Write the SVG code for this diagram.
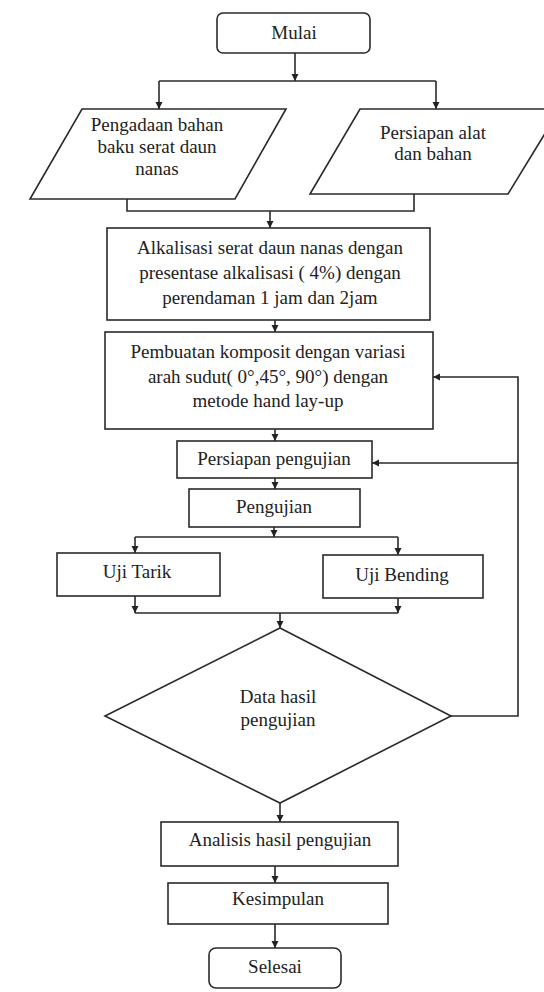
<svg xmlns="http://www.w3.org/2000/svg" width="544" height="992" viewBox="0 0 544 992">
<defs>
<style>
.s{fill:#fff;stroke:#2a2a2a;stroke-width:1.6}
.c{fill:none;stroke:#2a2a2a;stroke-width:1.6}
text{font-family:"Liberation Serif","Times New Roman",serif;font-size:19px;fill:#222;text-anchor:middle}
</style>
<marker id="ah" markerUnits="userSpaceOnUse" markerWidth="8" markerHeight="8" refX="7" refY="4" orient="auto">
<path d="M0,0.5 L7,4 L0,7.5 z" fill="#222"/>
</marker>
</defs>
<rect width="544" height="992" fill="#fff"/>
<g id="connectors">
<path class="c" d="M295,53 V81" marker-end="url(#ah)"/>
<path class="c" d="M159,81 H436"/>
<path class="c" d="M159,81 V109" marker-end="url(#ah)"/>
<path class="c" d="M436,81 V109" marker-end="url(#ah)"/>
<path class="c" d="M127,199 V211 H414 V194"/>
<path class="c" d="M270,211 V228" marker-end="url(#ah)"/>
<path class="c" d="M275,320 V332" marker-end="url(#ah)"/>
<path class="c" d="M275,429 V441" marker-end="url(#ah)"/>
<path class="c" d="M275,478 V489" marker-end="url(#ah)"/>
<path class="c" d="M274,527 V537" marker-end="url(#ah)"/>
<path class="c" d="M135,537 H398"/>
<path class="c" d="M135,537 V553" marker-end="url(#ah)"/>
<path class="c" d="M398,537 V555" marker-end="url(#ah)"/>
<path class="c" d="M135,596 V613" marker-end="url(#ah)"/>
<path class="c" d="M398,598 V613" marker-end="url(#ah)"/>
<path class="c" d="M135,613 H398"/>
<path class="c" d="M280,613 V628" marker-end="url(#ah)"/>
<path class="c" d="M451,716 H518 V377 H433" marker-end="url(#ah)"/>
<path class="c" d="M518,463 H372" marker-end="url(#ah)"/>
<path class="c" d="M280,803 V822" marker-end="url(#ah)"/>
<path class="c" d="M275,866 V883" marker-end="url(#ah)"/>
<path class="c" d="M275,924 V948" marker-end="url(#ah)"/>
</g>
<g id="mulai">
<rect class="s" x="217" y="13" width="153" height="40" rx="6"/>
<text x="294" y="39">Mulai</text>
</g>
<g id="pengadaan">
<polygon class="s" points="82,109 286,109 235,199 30,199"/>
<text x="157" y="131">Pengadaan bahan</text>
<text x="157" y="153">baku serat daun</text>
<text x="157" y="175">nanas</text>
</g>
<g id="persiapan-alat">
<polygon class="s" points="360,109 560,109 508,194 310,194"/>
<text x="433" y="139">Persiapan alat</text>
<text x="433" y="160">dan bahan</text>
</g>
<g id="alkalisasi">
<rect class="s" x="107" y="228" width="323" height="92"/>
<text x="270" y="254">Alkalisasi serat daun nanas dengan</text>
<text x="270" y="279">presentase alkalisasi ( 4%) dengan</text>
<text x="270" y="304">perendaman 1 jam dan 2jam</text>
</g>
<g id="pembuatan">
<rect class="s" x="105" y="332" width="328" height="97"/>
<text x="268" y="358">Pembuatan komposit dengan variasi</text>
<text x="268" y="383">arah sudut( 0°,45°, 90°) dengan</text>
<text x="268" y="407">metode hand lay-up</text>
</g>
<g id="persiapan-pengujian">
<rect class="s" x="177" y="441" width="195" height="37"/>
<text x="274" y="465">Persiapan pengujian</text>
</g>
<g id="pengujian">
<rect class="s" x="189" y="489" width="171" height="38"/>
<text x="274" y="513">Pengujian</text>
</g>
<g id="uji-tarik">
<rect class="s" x="57" y="553" width="163" height="43"/>
<text x="137" y="578">Uji Tarik</text>
</g>
<g id="uji-bending">
<rect class="s" x="323" y="555" width="160" height="43"/>
<text x="402" y="581">Uji Bending</text>
</g>
<g id="data-hasil">
<polygon class="s" points="280,628 451,716 280,803 105,716"/>
<text x="278" y="703">Data hasil</text>
<text x="278" y="726">pengujian</text>
</g>
<g id="analisis">
<rect class="s" x="161" y="822" width="237" height="44"/>
<text x="280" y="846">Analisis hasil pengujian</text>
</g>
<g id="kesimpulan">
<rect class="s" x="168" y="883" width="220" height="41"/>
<text x="278" y="905">Kesimpulan</text>
</g>
<g id="selesai">
<rect class="s" x="209" y="948" width="132" height="40" rx="7"/>
<text x="275" y="973">Selesai</text>
</g>
</svg>
